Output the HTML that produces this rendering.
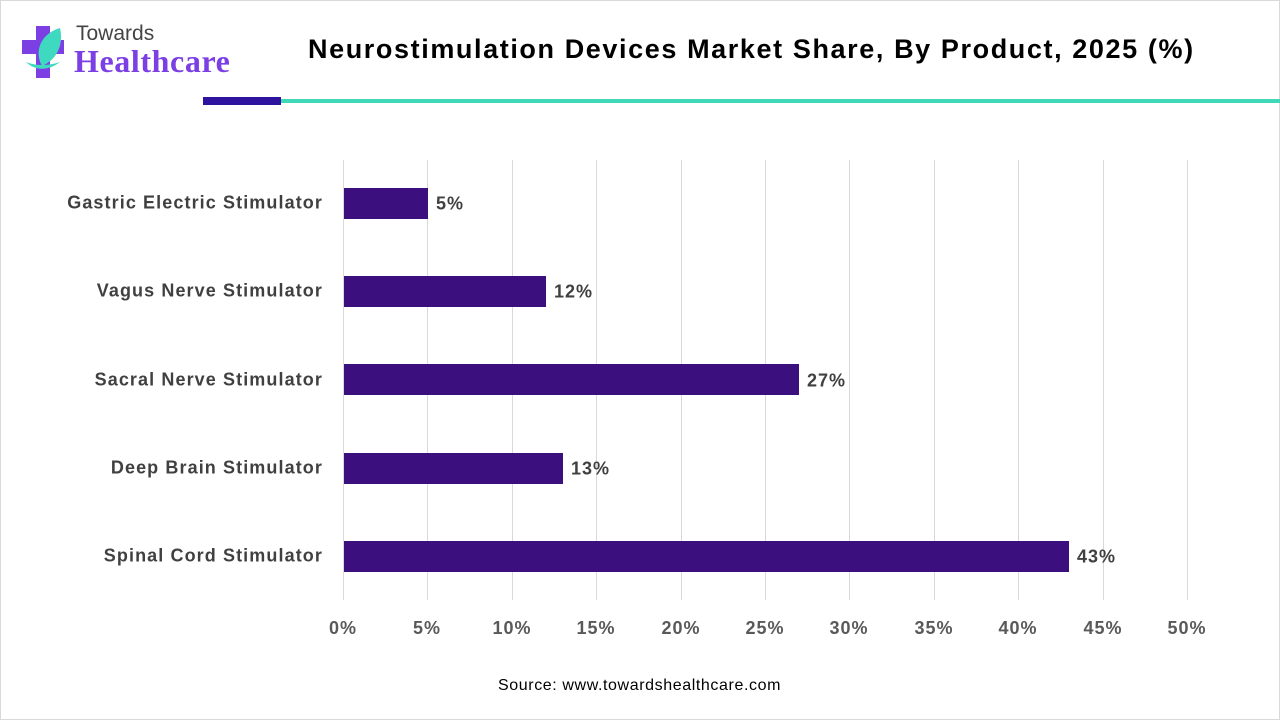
<!DOCTYPE html>
<html><head><style>
body{margin:0;width:1280px;height:720px;background:#fff;position:relative;overflow:hidden;font-family:"Liberation Sans",sans-serif}
.a{position:absolute}
.g{position:absolute;top:160px;height:440px;width:1px;background:#d9d9d9}
.bar{position:absolute;left:344px;height:31px;background:#3b0f7d}
.lab{position:absolute;right:957px;font-weight:bold;font-size:18px;color:#404040;transform:translateY(-50%);white-space:nowrap;letter-spacing:1.1px}
.v{position:absolute;font-weight:bold;font-size:18px;color:#404040;transform:translateY(-50%);letter-spacing:1px}
.t{position:absolute;top:618px;font-weight:bold;font-size:18px;color:#595959;transform:translateX(-50%);letter-spacing:1px}
</style></head><body>
<div class="a" style="left:0;top:0;width:1278px;height:718px;border:1px solid #d9d9d9"></div>
<svg class="a" style="left:20px;top:22px" width="52" height="58" viewBox="0 0 52 58">
<path d="M16 4h14v14h14v14H30v24H16V32H2V18h14z" fill="#7b3fe4"/>
<path d="M40 6C20 12 14 30 22 44C36 38 44 24 40 6z" fill="#3fd9c0"/>
<path d="M6 40C16 50 30 48 40 40C28 44 16 44 6 40z" fill="#3fd9c0"/>
</svg>
<div class="a" style="left:76px;top:22px;font-size:21px;color:#444">Towards</div>
<div class="a" style="left:74px;top:43px;font-size:32px;font-weight:bold;color:#7b3fe4;font-family:'Liberation Serif',serif;letter-spacing:0.6px">Healthcare</div>
<div class="a" style="left:308px;top:34px;font-size:27px;font-weight:bold;color:#000;white-space:nowrap;letter-spacing:1.6px">Neurostimulation Devices Market Share, By Product, 2025 (%)</div>
<div class="a" style="left:203px;top:97px;width:78px;height:8px;background:#2e139e"></div>
<div class="a" style="left:281px;top:99px;width:999px;height:4px;background:#3fd9b8"></div>
<div class="g" style="left:343px"></div><div class="g" style="left:427px"></div><div class="g" style="left:512px"></div><div class="g" style="left:596px"></div><div class="g" style="left:681px"></div><div class="g" style="left:765px"></div><div class="g" style="left:849px"></div><div class="g" style="left:934px"></div><div class="g" style="left:1018px"></div><div class="g" style="left:1103px"></div><div class="g" style="left:1187px"></div>
<div class="bar" style="top:188px;width:84px"></div>
<div class="bar" style="top:276px;width:202px"></div>
<div class="bar" style="top:364px;width:455px"></div>
<div class="bar" style="top:453px;width:219px"></div>
<div class="bar" style="top:541px;width:725px"></div>
<div class="lab" style="top:203px">Gastric Electric Stimulator</div>
<div class="lab" style="top:291px">Vagus Nerve Stimulator</div>
<div class="lab" style="top:380px">Sacral Nerve Stimulator</div>
<div class="lab" style="top:468px">Deep Brain Stimulator</div>
<div class="lab" style="top:556px">Spinal Cord Stimulator</div>
<div class="v" style="left:436px;top:204px">5%</div>
<div class="v" style="left:554px;top:292px">12%</div>
<div class="v" style="left:807px;top:381px">27%</div>
<div class="v" style="left:571px;top:469px">13%</div>
<div class="v" style="left:1077px;top:557px">43%</div>
<div class="t" style="left:343px">0%</div><div class="t" style="left:427px">5%</div><div class="t" style="left:512px">10%</div><div class="t" style="left:596px">15%</div><div class="t" style="left:681px">20%</div><div class="t" style="left:765px">25%</div><div class="t" style="left:849px">30%</div><div class="t" style="left:934px">35%</div><div class="t" style="left:1018px">40%</div><div class="t" style="left:1103px">45%</div><div class="t" style="left:1187px">50%</div>
<div class="a" style="left:498px;top:677px;font-size:16px;color:#000;letter-spacing:0.6px">Source: www.towardshealthcare.com</div>
</body></html>
